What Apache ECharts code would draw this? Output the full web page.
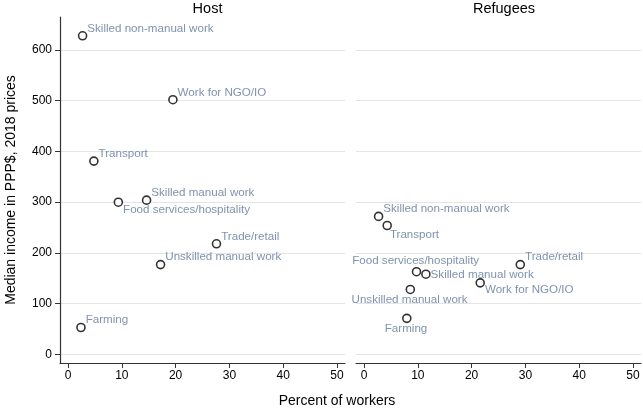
<!DOCTYPE html>
<html>
<head>
<meta charset="utf-8">
<script src="https://cdn.jsdelivr.net/npm/echarts@6/dist/echarts.min.js"></script>
<style>html,body{margin:0;padding:0;background:#fff}#c{width:643px;height:408px}</style>
</head>
<body>
<div id="c"></div>
<script>
// ---- data ----
const panels = ["Host", "Refugees"];
const occupations = ["Skilled non-manual work", "Work for NGO/IO", "Transport", "Food services/hospitality",
  "Skilled manual work", "Trade/retail", "Unskilled manual work", "Farming"];
const hostPercent = [2.7, 19.5, 4.8, 9.35, 14.6, 27.6, 17.2, 2.4];
const hostIncome = [628, 502, 381, 300, 304, 218, 177, 53];
const refPercent = [2.7, 21.6, 4.3, 9.75, 11.5, 29.05, 8.6, 7.95];
const refIncome = [272, 141, 254, 163, 158, 177, 128, 71];
// label clock positions (Stata-style)
const hostLabelPos = [2, 2, 2, 4, 2, 2, 2, 2];
const refLabelPos = [2, 4, 5, 12, 3, 2, 6, 6];
const xTicks = [0, 10, 20, 30, 40, 50];
const yTicks = [0, 100, 200, 300, 400, 500, 600];
const xTitle = "Percent of workers";
const yTitle = "Median income in PPP$, 2018 prices";

const FONT = "Liberation Sans, Arial, Helvetica, sans-serif";
const labelColor = "#5f7798";

function labelFor(pos) {
  const m = {
    2: { dx: 5.5, dy: -6.5, align: "left" },
    3: { dx: 5.5, dy: 1, align: "left" },
    4: { dx: 5.5, dy: 8, align: "left" },
    5: { dx: 3.5, dy: 10, align: "left" },
    6: { dx: 0, dy: 11, align: "center" },
    12: { dx: 0, dy: -10, align: "center" }
  }[pos];
  return {
    show: true,
    position: [4 + m.dx, 4 + m.dy],
    align: m.align,
    verticalAlign: "middle",
    color: labelColor,
    fontFamily: FONT,
    fontSize: 11.6,
    formatter: "{b}"
  };
}

function buildData(xs, ys, poss) {
  return occupations.map((name, i) => ({
    name: name,
    value: [xs[i], ys[i]],
    label: labelFor(poss[i])
  }));
}

const axisColor = "#333";
const gridColor = "#e4e4e4";

function xAxis(idx) {
  return {
    type: "value", gridIndex: idx, min: -1.5, max: 51.5,
    axisLine: { show: true, onZero: false, lineStyle: { color: axisColor, width: 1.2 } },
    axisTick: { show: true, length: 5, lineStyle: { color: axisColor, width: 1 }, customValues: xTicks },
    axisLabel: { show: true, margin: 7, color: "#000", fontFamily: FONT, fontSize: 12, customValues: xTicks },
    splitLine: { show: false }
  };
}
function yAxis(idx, showAxis) {
  return {
    type: "value", gridIndex: idx, min: -17, max: 665,
    axisLine: { show: showAxis, onZero: false, lineStyle: { color: axisColor, width: 1.2 } },
    axisTick: { show: showAxis, length: 5, lineStyle: { color: axisColor, width: 1 }, customValues: yTicks },
    axisLabel: { show: showAxis, margin: 8, color: "#000", fontFamily: FONT, fontSize: 12, customValues: yTicks },
    splitLine: { show: true, lineStyle: { color: gridColor, width: 1.2 } }
  };
}

const seriesStyle = {
  type: "scatter", symbol: "circle", symbolSize: 8,
  itemStyle: { color: "#fff", borderColor: "#000", borderWidth: 1.6 },
  labelLayout: { hideOverlap: false },
  emphasis: { disabled: true },
  z: 3
};

const chart = echarts.init(document.getElementById("c"), null, { renderer: "canvas" });
chart.setOption({
  animation: false,
  backgroundColor: "#fff",
  textStyle: { fontFamily: FONT },
  title: [
    { text: panels[0], left: 202.5, top: -4, textAlign: "center", textStyle: { fontFamily: FONT, fontSize: 14.5, fontWeight: "normal", color: "#000" } },
    { text: panels[1], left: 499, top: -4, textAlign: "center", textStyle: { fontFamily: FONT, fontSize: 14.5, fontWeight: "normal", color: "#000" } }
  ],
  grid: [
    { left: 60, right: 298, top: 17, bottom: 45 },
    { left: 356, right: 2, top: 17, bottom: 45 }
  ],
  xAxis: [xAxis(0), xAxis(1)],
  yAxis: [yAxis(0, true), yAxis(1, false)],
  graphic: [
    { type: "text", x: 337, y: 401, style: { text: xTitle, fontFamily: FONT, fontSize: 14, fill: "#000", textAlign: "center", textVerticalAlign: "middle" } },
    { type: "text", x: 11.5, y: 190, rotation: Math.PI / 2, style: { text: yTitle, fontFamily: FONT, fontSize: 14, fill: "#000", textAlign: "center", textVerticalAlign: "middle" } }
  ],
  series: [
    Object.assign({}, seriesStyle, { name: panels[0], xAxisIndex: 0, yAxisIndex: 0, data: buildData(hostPercent, hostIncome, hostLabelPos) }),
    Object.assign({}, seriesStyle, { name: panels[1], xAxisIndex: 1, yAxisIndex: 1, data: buildData(refPercent, refIncome, refLabelPos) })
  ]
});
</script>
</body>
</html>
